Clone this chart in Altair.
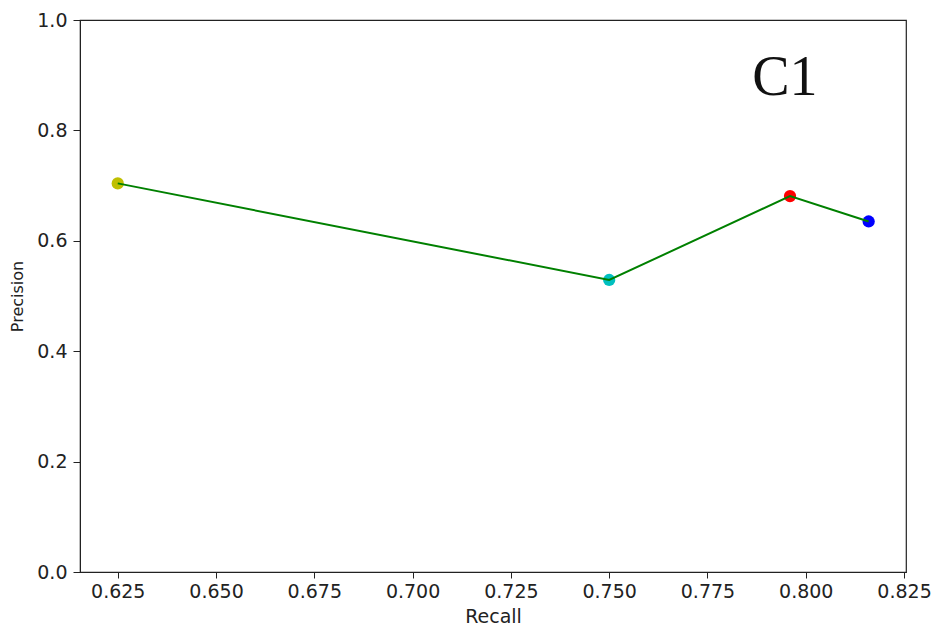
import altair as alt
import pandas as pd

recall = [0.625, 0.750, 0.796, 0.816]
precision = [0.704, 0.529, 0.681, 0.635]
point_ids = ["p1", "p2", "p3", "p4"]
point_colors = ["#bfbf00", "#00bfbf", "#ff0000", "#0000ff"]
x_ticks = [0.625, 0.650, 0.675, 0.700, 0.725, 0.750, 0.775, 0.800, 0.825]
y_ticks = [0.0, 0.2, 0.4, 0.6, 0.8, 1.0]
label_text = ["C1"]
label_x = [0.7947]
label_y = [0.895]

df = pd.DataFrame({"Recall": recall, "Precision": precision, "id": point_ids})
lab = pd.DataFrame({"t": label_text, "x": label_x, "y": label_y})

font = "DejaVu Sans"
xscale = alt.Scale(domain=[0.6154, 0.8255], nice=False, zero=False)
yscale = alt.Scale(domain=[0, 1], nice=False)

xaxis = alt.Axis(values=x_ticks, format=".3f", grid=False, tickSize=6, labelPadding=4,
                 labelFont=font, labelFontSize=19, labelColor="#222", tickColor="#222",
                 domainColor="#222", title="Recall", titleFont=font, titleFontSize=19,
                 titleFontWeight="normal", titleColor="#222", titlePadding=6)
yaxis = alt.Axis(values=y_ticks, format=".1f", grid=False, tickSize=7, labelPadding=6,
                 labelFont=font, labelFontSize=19, labelColor="#222", tickColor="#222",
                 domainColor="#222", title="Precision", titleFont=font, titleFontSize=16,
                 titleFontWeight="normal", titleColor="#222", titlePadding=11)

base = alt.Chart(df)
points = base.mark_circle(size=150, opacity=1).encode(
    x=alt.X("Recall:Q", scale=xscale, axis=xaxis),
    y=alt.Y("Precision:Q", scale=yscale, axis=yaxis),
    color=alt.Color("id:N", scale=alt.Scale(domain=point_ids, range=point_colors), legend=None),
)
line = base.mark_line(color="#008000", strokeWidth=2).encode(
    x=alt.X("Recall:Q", scale=xscale),
    y=alt.Y("Precision:Q", scale=yscale),
    order="Recall:Q",
)
text = alt.Chart(lab).mark_text(font="Liberation Serif", fontSize=56, color="#111",
                                baseline="middle", align="center").encode(
    x=alt.X("x:Q", scale=xscale),
    y=alt.Y("y:Q", scale=yscale),
    text="t:N",
)

chart = alt.layer(points, line, text).properties(
    width=826, height=552,
    autosize=alt.AutoSizeParams(type="none"),
    padding={"left": 72, "top": 12, "right": 26, "bottom": 56},
).configure(background="white").configure_view(stroke="#222", strokeWidth=1.2)

chart.save("out.html", embed_options={"renderer": "svg", "actions": False})
